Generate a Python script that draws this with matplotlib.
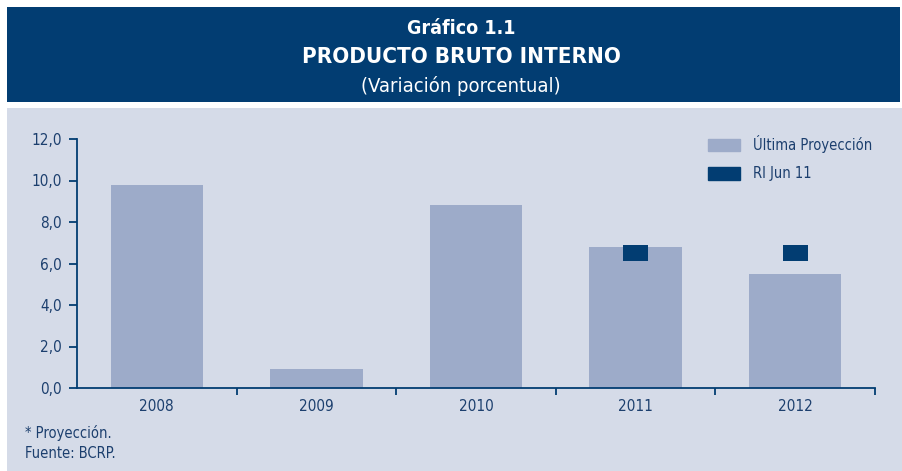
import matplotlib
matplotlib.use("Agg")
import matplotlib.pyplot as plt
from matplotlib.patches import Rectangle, Patch

# data
years = ["2008", "2009", "2010", "2011", "2012"]
ultima = [9.8, 0.9, 8.8, 6.8, 5.5]
ri_years = [3, 4]          # indices of 2011 and 2012
ri_jun11 = [6.5, 6.5]
yticks = [0, 2, 4, 6, 8, 10, 12]

HEADER = "#023d72"
PANEL = "#d5dbe8"
BAR = "#9dabc9"
TXT = "#1c3f6e"

plt.rcParams["font.family"] = ["DejaVu Sans"]
plt.rcParams["font.stretch"] = "condensed"

W, H = 902, 471
fig = plt.figure(figsize=(W / 100, H / 100), dpi=100)
fig.patch.set_facecolor("white")

# header box and panel (behind the axes)
fig.add_artist(Rectangle((7 / W, 1 - 102 / H), 893 / W, 95 / H,
                         transform=fig.transFigure, color=HEADER, lw=0,
                         zorder=-2))
fig.add_artist(Rectangle((7 / W, 0), 895 / W, 1 - 108 / H,
                         transform=fig.transFigure, color=PANEL, lw=0,
                         zorder=-2))

fig.text(461 / W, 1 - 28 / H, "Gráfico 1.1", color="white", fontsize=14,
         fontweight="bold", ha="center", va="center")
fig.text(461 / W, 1 - 57 / H, "PRODUCTO BRUTO INTERNO", color="white",
         fontsize=16, fontweight="bold", ha="center", va="center")
fig.text(461 / W, 1 - 86 / H, "(Variación porcentual)", color="white",
         fontsize=14.5, ha="center", va="center")

ax = fig.add_axes([77 / W, 1 - 388 / H, (875 - 77) / W, (388 - 139) / H])
ax.set_facecolor("none")
x = list(range(len(years)))
ax.bar(x, ultima, width=0.58, color=BAR, zorder=2)
ax.bar(ri_years, [0.8] * len(ri_jun11), bottom=[v - 0.4 for v in ri_jun11],
       width=0.155, color=HEADER, zorder=3)

ax.set_xlim(-0.5, 4.5)
ax.set_ylim(0, 12)
ax.set_yticks(yticks)
ax.set_yticklabels([f"{v:.1f}".replace(".", ",") for v in yticks])
ax.set_xticks([i + 0.5 for i in range(len(years))])
ax.set_xticklabels([])
ax.set_xticks(x, minor=True)
ax.set_xticklabels(years, minor=True)
ax.tick_params(axis="both", which="major", color=HEADER, length=6, width=1.3,
               labelcolor=TXT, labelsize=11)
ax.tick_params(axis="x", which="minor", length=0, pad=8, labelcolor=TXT,
               labelsize=11)
ax.tick_params(axis="x", which="major", length=5)
ax.tick_params(axis="y", pad=5)
for s in ["top", "right"]:
    ax.spines[s].set_visible(False)
for s in ["left", "bottom"]:
    ax.spines[s].set_color(HEADER)
    ax.spines[s].set_linewidth(1.3)

handles = [Patch(color=BAR, label="Última Proyección"),
           Patch(color=HEADER, label="RI Jun 11")]
fig.legend(handles=handles, loc="upper left",
           bbox_to_anchor=(695 / W, 1 - 122 / H), frameon=False,
           fontsize=10.5, handlelength=2.2, handleheight=0.95,
           labelspacing=0.9, handletextpad=0.9, labelcolor=TXT)

fig.text(25 / W, 1 - 433 / H, "* Proyección.", color=TXT, fontsize=10.5,
         va="center")
fig.text(25 / W, 1 - 454 / H, "Fuente: BCRP.", color=TXT, fontsize=10.5,
         va="center")

fig.savefig("out.png", dpi=100, facecolor=fig.get_facecolor())
